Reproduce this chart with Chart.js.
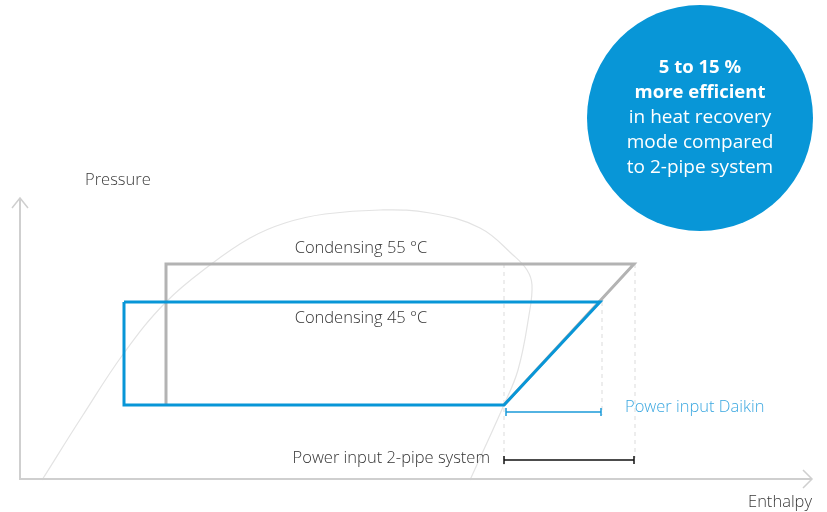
<!DOCTYPE html>
<html>
<head>
<meta charset="utf-8">
<script src="https://cdn.jsdelivr.net/npm/chart.js@4.4.0/dist/chart.umd.min.js"></script>
<style>
  html, body { margin: 0; padding: 0; background: #fff; }
  #wrap { width: 827px; height: 512px; position: relative; }
</style>
</head>
<body>
<div id="wrap"><canvas id="chartPH"></canvas></div>
<script>
// enthalpy (h) / pressure (p) in diagram units, origin at the axis corner
var domeH = [22, 63, 104, 146, 190, 230, 265, 305, 360, 410, 460, 493, 507, 512, 509, 498, 483, 465, 450];
var domeP = [-1, 64, 126, 177, 214, 241, 256, 265, 269, 266, 251, 224, 209, 194, 164, 109, 72, 32, -1];

var cycle55H = [146, 146, 614, 484];
var cycle55P = [74, 215, 215, 74];
var cycle45H = [104, 580, 484, 104, 104];
var cycle45P = [177, 177, 74, 74, 177];

var dropH = [484, 582, 615];
var dropTop = [215, 177, 215];
var dropBottom = [14, 64, 21];

var daikinH = [486, 581];
var daikinP = 67;
var twoPipeH = [484, 614];
var twoPipeP = 19;

var axisYLen = 281;
var axisXLen = 792;

var condLabels = ['Condensing 55 °C', 'Condensing 45 °C'];
var bubbleBold = ['5 to 15 %', 'more efficient'];
var bubbleText = ['in heat recovery', 'mode compared', 'to 2-pipe system'];

function pts(hs, ps) {
  return hs.map(function (h, i) { return { x: h, y: ps[i] }; });
}

var datasets = [];

// saturation dome
datasets.push({ order: 10, data: pts(domeH, domeP), borderColor: '#e3e3e3', borderWidth: 1.2, tension: 0.4, pointRadius: 0 });

// dashed drop lines
dropH.forEach(function (h, i) {
  datasets.push({ order: 9, data: [{ x: h, y: dropTop[i] }, { x: h, y: dropBottom[i] }], borderColor: '#dcdcdc', borderWidth: 1, borderDash: [4, 4], pointRadius: 0 });
});

// axes
datasets.push({ order: 8, data: [{ x: 0, y: axisYLen }, { x: 0, y: 0 }, { x: axisXLen, y: 0 }], borderColor: '#cfcfcf', borderWidth: 2, pointRadius: 0 });
datasets.push({ order: 8, data: [{ x: -8, y: axisYLen - 10 }, { x: 0, y: axisYLen }, { x: 8, y: axisYLen - 10 }], borderColor: '#cfcfcf', borderWidth: 1.5, pointRadius: 0 });
datasets.push({ order: 8, data: [{ x: axisXLen - 9, y: 9 }, { x: axisXLen, y: 0 }, { x: axisXLen - 9, y: -9 }], borderColor: '#cfcfcf', borderWidth: 1.5, pointRadius: 0 });

// cycles
datasets.push({ order: 5, data: pts(cycle55H, cycle55P), borderColor: '#b3b3b3', borderWidth: 3, pointRadius: 0 });
datasets.push({ order: 4, data: pts(cycle45H, cycle45P), borderColor: '#0896d7', borderWidth: 3, pointRadius: 0, borderJoinStyle: 'miter' });

// power input brackets
datasets.push({ order: 3, data: daikinH.map(function (h) { return { x: h, y: daikinP }; }), borderColor: '#1a9ad8', borderWidth: 1.5, pointStyle: 'line', rotation: 90, pointRadius: 4, pointBorderColor: '#1a9ad8', pointBorderWidth: 1.5 });
datasets.push({ order: 3, data: twoPipeH.map(function (h) { return { x: h, y: twoPipeP }; }), borderColor: '#111', borderWidth: 1.5, pointStyle: 'line', rotation: 90, pointRadius: 4, pointBorderColor: '#111', pointBorderWidth: 1.5 });

var textPlugin = {
  id: 'diagramText',
  afterDatasetsDraw: function (chart) {
    var c = chart.ctx, xs = chart.scales.x, ys = chart.scales.y;
    function tx(str, h, p, align, color, font) {
      c.save();
      c.font = font;
      c.fillStyle = color;
      c.textAlign = align;
      c.textBaseline = 'middle';
      c.fillText(str, xs.getPixelForValue(h), ys.getPixelForValue(p));
      c.restore();
    }
    var f = '300 16.5px "Open Sans", sans-serif';
    tx('Pressure', 65, 299, 'left', '#3a3a3a', f);
    tx('Enthalpy', 792, -23, 'right', '#3a3a3a', f);
    tx(condLabels[0], 341, 231, 'center', '#333', f);
    tx(condLabels[1], 341, 161, 'center', '#333', f);
    tx('Power input Daikin', 605, 72, 'left', '#3aa7e0', f);
    tx('Power input 2-pipe system', 470, 21, 'right', '#333', f);

    // efficiency bubble
    var cx = xs.getPixelForValue(680), cy = ys.getPixelForValue(361);
    c.save();
    c.beginPath();
    c.arc(cx, cy, 113, 0, Math.PI * 2);
    c.fillStyle = '#0896d7';
    c.fill();
    c.fillStyle = '#fff';
    c.textAlign = 'center';
    c.textBaseline = 'middle';
    var lines = bubbleBold.concat(bubbleText);
    lines.forEach(function (s, i) {
      c.font = (i < bubbleBold.length ? '700 18.5px' : '400 19px') + ' "Open Sans", sans-serif';
      c.fillText(s, cx, cy - 50 + i * 25);
    });
    c.restore();
  }
};

new Chart(document.getElementById('chartPH').getContext('2d'), {
  type: 'scatter',
  data: { datasets: datasets.map(function (d) { d.showLine = true; d.fill = false; return d; }) },
  options: {
    responsive: true,
    maintainAspectRatio: false,
    animation: false,
    layout: { padding: 0, autoPadding: false },
    plugins: { legend: { display: false }, tooltip: { enabled: false } },
    scales: {
      x: { type: 'linear', display: false, min: -20, max: 807 },
      y: { type: 'linear', display: false, min: -33, max: 479 }
    }
  },
  plugins: [textPlugin]
});
</script>
</body>
</html>
